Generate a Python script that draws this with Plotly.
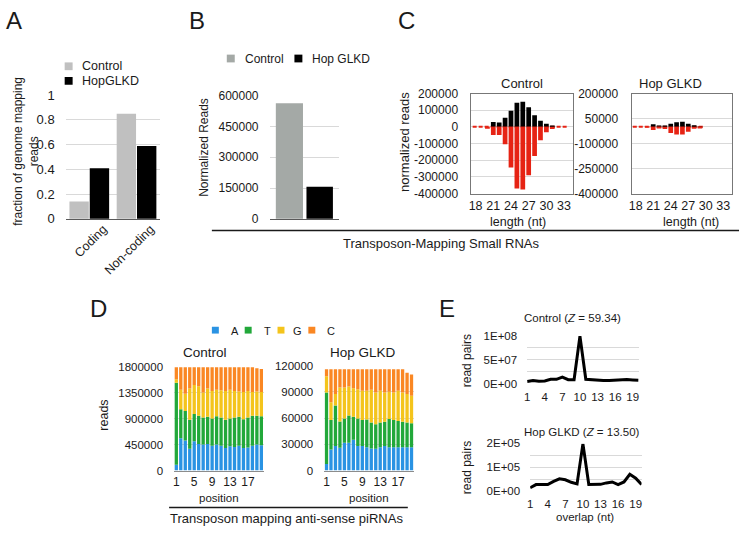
import numpy as np
import plotly.graph_objects as go

W, H = 745, 534
FONT = "Liberation Sans, Arial, Helvetica, sans-serif"
INK = "#1a1a1a"
GRID = "#d9d9d9"

# ── A: fraction of genome mapping reads ──────────────────────────────────────
a_categories = ["Coding", "Non-coding"]
a_control = [0.14, 0.85]
a_hopglkd = [0.41, 0.59]
a_yticks = [0, 0.2, 0.4, 0.6, 0.8, 1]

# ── B: transposon-mapping small RNAs ─────────────────────────────────────────
b_category = ["small RNAs"]
b_control = [562000]
b_hopglkd = [156000]
b_yticks = [0, 150000, 300000, 450000, 600000]

# ── C: length profile (sense up, antisense down) ─────────────────────────────
c_length = list(range(18, 34))
c_ctrl_sense = [0, 0, 0, 29000, 26000, 54000, 96000, 144000, 150000, 118000,
                70000, 36000, 18000, 5000, 0, 0]
c_ctrl_anti = [0, 0, -12000, -49000, -49000, -104000, -244000, -370000, -376000,
               -290000, -174000, -80000, -33000, -13000, 0, 0]
c_hop_sense = [0, 0, 0, 15000, 3000, 4000, 19000, 27000, 31000, 19000,
               9000, 2000, 0, 0, 0, 0]
c_hop_anti = [0, 0, -3000, -19000, -5000, -13000, -37000, -46000, -46000,
              -29000, -12000, -4000, 0, 0, 0, 0]
c_hop_last_len = 29
c_ctrl_yticks = [-400000, -300000, -200000, -100000, 0, 100000, 200000]
c_hop_yticks = [-400000, -250000, -100000, 50000, 200000]
c_xticks = [18, 21, 24, 27, 30, 33]

# ── D: nucleotide composition per position ───────────────────────────────────
d_position = list(range(1, 21))
d_ctrl_A = [100000, 560000, 520000, 380000, 510000, 460000, 450000, 460000, 430000, 450000,
            430000, 390000, 420000, 410000, 430000, 390000, 400000, 430000, 450000, 440000]
d_ctrl_T = [1420000, 500000, 510000, 500000, 470000, 490000, 470000, 470000, 470000, 490000,
            490000, 490000, 480000, 510000, 500000, 500000, 520000, 520000, 500000, 500000]
d_ctrl_G = [60000, 340000, 300000, 540000, 500000, 510000, 430000, 490000, 480000, 460000,
            470000, 500000, 500000, 460000, 440000, 470000, 460000, 410000, 420000, 420000]
d_ctrl_C = [210000, 390000, 460000, 370000, 310000, 330000, 440000, 370000, 410000, 390000,
            400000, 410000, 390000, 410000, 420000, 430000, 410000, 430000, 400000, 400000]
d_hop_A = [7500, 24000, 28000, 26000, 31700, 31700, 35400, 28000, 28000, 26800,
           25300, 25000, 26800, 28000, 26800, 26800, 26800, 26800, 26800, 26800]
d_hop_T = [81900, 33700, 46500, 30000, 27900, 31300, 26100, 31600, 29800, 31700,
           29800, 27900, 28300, 27900, 32200, 31000, 29800, 29100, 28300, 27200]
d_hop_G = [18600, 20300, 13100, 39000, 35400, 33000, 32500, 33400, 33500, 32800,
           37300, 36500, 36200, 33500, 31200, 31600, 34700, 33500, 32500, 31700]
d_hop_C = [8000, 38000, 28400, 21000, 21000, 20000, 22000, 23000, 24700, 24700,
           23600, 26600, 24700, 26600, 25800, 26600, 24700, 26600, 24400, 24300]
d_bases = ["A", "T", "G", "C"]
d_colors = ["#2a93e3", "#22a83a", "#f4c41c", "#fa8723"]
d_ctrl_yticks = [0, 450000, 900000, 1350000, 1800000]
d_hop_yticks = [0, 30000, 60000, 90000, 120000]
d_xticks = [1, 5, 9, 13, 17]

# ── E: ping-pong overlap ─────────────────────────────────────────────────────
e_overlap = list(range(1, 21))
e_ctrl_pairs = [5.3e6, 7.2e6, 5.9e6, 6.5e6, 9.9e6, 9.9e6, 1.45e7, 9.2e6, 9.2e6, 9.87e7,
                9.9e6, 8.6e6, 7.9e6, 7.2e6, 7.2e6, 7.9e6, 9.2e6, 9.2e6, 8.6e6, 7.9e6]
e_hop_pairs = [13500, 27000, 27000, 27000, 40500, 51000, 47000, 36500, 30000, 198000,
               27000, 28000, 28000, 34000, 38000, 27000, 38000, 70000, 54000, 27000]
e_ctrl_yticks = [0, 5e7, 1e8]
e_ctrl_ylabels = ["0E+00", "5E+07", "1E+08"]
e_hop_yticks = [0, 1e5, 2e5]
e_hop_ylabels = ["0E+00", "1E+05", "2E+05"]
e_xticks = [1, 4, 7, 10, 13, 16, 19]


def dom_x(x0, x1):
    return [x0 / W, x1 / W]


def dom_y(top, bottom):
    return [1 - bottom / H, 1 - top / H]


def tf(size):
    return dict(size=size, color=INK, family=FONT)


def ax(*parts, **kw):
    out = {}
    for p in parts:
        out.update(p)
    out.update(kw)
    return out


def label(text, x, y, size=12, angle=0, xanchor="center"):
    return dict(text=text, x=x / W, y=1 - y / H, xref="paper", yref="paper",
                showarrow=False, font=tf(size), textangle=angle,
                xanchor=xanchor, yanchor="middle")


def square(x0, y0, size, color):
    return dict(type="rect", xref="paper", yref="paper",
                x0=x0 / W, x1=(x0 + size) / W, y0=1 - (y0 + size) / H, y1=1 - y0 / H,
                fillcolor=color, line=dict(width=0))


def hline(x0, x1, y, width=1.5):
    return dict(type="line", xref="paper", yref="paper",
                x0=x0 / W, x1=x1 / W, y0=1 - y / H, y1=1 - y / H,
                line=dict(color=INK, width=width))


fig = go.Figure()

# A
fig.add_trace(go.Bar(x=a_categories, y=a_control, offset=-0.42, width=0.41,
                     marker=dict(color="#c0c0c0", line_width=0), xaxis="x", yaxis="y"))
fig.add_trace(go.Bar(x=a_categories, y=a_hopglkd, offset=0.01, width=0.41,
                     marker=dict(color="#000000", line_width=0), xaxis="x", yaxis="y"))

# B
fig.add_trace(go.Bar(x=b_category, y=b_control, offset=-0.41, width=0.39,
                     marker=dict(color="#a4a9a6", line_width=0), xaxis="x2", yaxis="y2"))
fig.add_trace(go.Bar(x=b_category, y=b_hopglkd, offset=0.03, width=0.38,
                     marker=dict(color="#000000", line_width=0), xaxis="x2", yaxis="y2"))

# C
for xa, ya, sense, anti in [("x3", "y3", c_ctrl_sense, c_ctrl_anti),
                            ("x4", "y4", c_hop_sense, c_hop_anti)]:
    fig.add_trace(go.Bar(x=c_length, y=sense, width=0.8,
                         marker=dict(color="#000000", line_width=0), xaxis=xa, yaxis=ya))
    fig.add_trace(go.Bar(x=c_length, y=anti, width=0.8,
                         marker=dict(color="#e62314", line_width=0), xaxis=xa, yaxis=ya))

# D  (stacked via explicit base)
for xa, ya, series in [("x5", "y5", [d_ctrl_A, d_ctrl_T, d_ctrl_G, d_ctrl_C]),
                       ("x6", "y6", [d_hop_A, d_hop_T, d_hop_G, d_hop_C])]:
    base = np.zeros(len(d_position))
    for vals, color in zip(series, d_colors):
        fig.add_trace(go.Bar(x=d_position, y=vals, base=base.copy(), width=0.74,
                             marker=dict(color=color, line_width=0), xaxis=xa, yaxis=ya))
        base += np.array(vals)

# E
fig.add_trace(go.Scatter(x=e_overlap, y=e_ctrl_pairs, mode="lines",
                         line=dict(color="#000000", width=3), xaxis="x7", yaxis="y7"))
fig.add_trace(go.Scatter(x=e_overlap, y=e_hop_pairs, mode="lines",
                         line=dict(color="#000000", width=3), xaxis="x8", yaxis="y8"))

STANDOFF = 10
common_y = dict(showline=False, zeroline=False, showgrid=True, gridcolor=GRID,
                gridwidth=1, ticks="", ticklabelstandoff=STANDOFF, tickmode="array")
common_x = dict(showgrid=False, zeroline=False, ticks="", tickmode="array")
box = dict(showline=True, mirror=True, linecolor="#777777", linewidth=1)

fig.update_layout(
    width=W, height=H, margin=dict(l=0, r=0, t=0, b=0),
    paper_bgcolor="white", plot_bgcolor="white",
    barmode="overlay", showlegend=False,
    font=dict(family=FONT, color=INK, size=12),
    # A
    xaxis=ax(common_x, domain=dom_x(63, 158), anchor="y", type="category",
             range=[-0.5, 1.5], showline=True, linecolor="#595959",
             tickangle=-45, tickfont=tf(12.5), ticklabelshift=14, ticklabelstandoff=-3),
    yaxis=ax(common_y, domain=dom_y(90.7, 218), anchor="x", range=[0, 1],
             tickvals=a_yticks, ticktext=[f"{v:g}" for v in a_yticks], tickfont=tf(13)),
    # B
    xaxis2=ax(common_x, domain=dom_x(268, 338), anchor="y2", type="category",
              range=[-0.5, 0.5], showline=True, linecolor="#595959",
              showticklabels=False),
    yaxis2=ax(common_y, domain=dom_y(91, 218), anchor="x2", range=[0, 600000],
              tickvals=b_yticks, ticktext=[str(v) for v in b_yticks], tickfont=tf(12)),
    # C control
    xaxis3=ax(common_x, box, domain=dom_x(471, 573), anchor="y3", range=[17.3, 34.5],
              tickvals=c_xticks, ticktext=[str(v) for v in c_xticks], tickfont=tf(12.5),
              ticklabelstandoff=0),
    yaxis3=ax(common_y, box, domain=dom_y(89, 192), anchor="x3", range=[-400000, 200000],
              tickvals=c_ctrl_yticks, ticktext=[str(v) for v in c_ctrl_yticks],
              tickfont=tf(12)),
    # C hop
    xaxis4=ax(common_x, box, domain=dom_x(632, 733), anchor="y4", range=[17.3, 34.5],
              tickvals=c_xticks, ticktext=[str(v) for v in c_xticks], tickfont=tf(12.5),
              ticklabelstandoff=0),
    yaxis4=ax(common_y, box, domain=dom_y(89, 192), anchor="x4", range=[-400000, 200000],
              tickvals=c_hop_yticks, ticktext=[str(v) for v in c_hop_yticks],
              tickfont=tf(12), zeroline=True, zerolinecolor=GRID, zerolinewidth=1),
    # D control
    xaxis5=ax(common_x, domain=dom_x(172, 262), anchor="y5", range=[0.5, 20.5],
              showline=True, linecolor="#8c8c8c",
              tickvals=d_xticks, ticktext=[str(v) for v in d_xticks], tickfont=tf(12)),
    yaxis5=ax(common_y, domain=dom_y(370, 477), anchor="x5", range=[0, 1800000],
              tickvals=d_ctrl_yticks, ticktext=[str(v) for v in d_ctrl_yticks],
              tickfont=tf(11.5)),
    # D hop
    xaxis6=ax(common_x, domain=dom_x(323, 413), anchor="y6", range=[0.5, 20.5],
              showline=True, linecolor="#8c8c8c",
              tickvals=d_xticks, ticktext=[str(v) for v in d_xticks], tickfont=tf(12)),
    yaxis6=ax(common_y, domain=dom_y(369, 477), anchor="x6", range=[0, 120000],
              tickvals=d_hop_yticks, ticktext=[str(v) for v in d_hop_yticks],
              tickfont=tf(11.5)),
    # E control
    xaxis7=ax(common_x, domain=dom_x(527, 639), anchor="y7", range=[1, 20],
              tickvals=e_xticks, ticktext=[str(v) for v in e_xticks], tickfont=tf(11.5),
              ticklabelstandoff=4),
    yaxis7=ax(common_y, domain=dom_y(338, 388), anchor="x7", range=[0, 1e8],
              tickvals=e_ctrl_yticks, ticktext=e_ctrl_ylabels, tickfont=tf(11.5),
              ticklabelstandoff=9,
              minor=dict(tickmode="linear", tick0=0, dtick=2.5e7, showgrid=True,
                         gridcolor=GRID, ticks="")),
    # E hop
    xaxis8=ax(common_x, domain=dom_x(530, 642), anchor="y8", range=[1, 20],
              tickvals=e_xticks, ticktext=[str(v) for v in e_xticks], tickfont=tf(11.5),
              ticklabelstandoff=4),
    yaxis8=ax(common_y, domain=dom_y(449, 498), anchor="x8", range=[0, 2e5],
              tickvals=e_hop_yticks, ticktext=e_hop_ylabels, tickfont=tf(11.5),
              ticklabelstandoff=9,
              minor=dict(tickmode="linear", tick0=0, dtick=5e4, showgrid=True,
                         gridcolor=GRID, ticks="")),
)

annotations = [
    # panel letters
    label("A", 11, 14, 24), label("B", 195, 14, 24), label("C", 406, 14, 24),
    label("D", 96, 310, 24), label("E", 446, 310, 24),
    # A
    label("fraction of genome mapping<br>reads", 23, 148, 12, angle=-90),
    label("Control", 77, 61, 12.5, xanchor="left"),
    label("HopGLKD", 77, 76.5, 12.5, xanchor="left"),
    # B
    label("Normalized Reads", 202, 144, 12, angle=-90),
    label("Control", 241, 53, 12, xanchor="left"),
    label("Hop GLKD", 309, 53, 12, xanchor="left"),
    # C
    label("normalized reads", 403, 139, 13, angle=-90),
    label("Control", 522, 79, 13), label("Hop GLKD", 671, 79, 13),
    label("length (nt)", 518, 221, 12.5), label("length (nt)", 692, 221, 12.5),
    label("Transposon-Mapping Small RNAs", 441, 243, 13),
    # D
    label("reads", 102, 420, 12.5, angle=-90),
    label("Control", 203, 355, 13.5), label("Hop GLKD", 362, 355, 13.5),
    label("position", 217, 505, 11.5), label("position", 368, 505, 11.5),
    label("Transposon mapping anti-sense piRNAs", 285, 526, 13),
    # E
    label("Control (<i>Z</i> = 59.34)", 573, 320, 11.5),
    label("Hop GLKD (<i>Z</i> = 13.50)", 582, 437, 11.5),
    label("read pairs", 466, 364, 12, angle=-90),
    label("read pairs", 466, 474, 12, angle=-90),
    label("overlap (nt)", 585, 525, 11.5),
]
legend_d_x = [227, 260, 290, 324]
for base_name, tx in zip(d_bases, legend_d_x):
    annotations.append(label(base_name, tx, 333, 11, xanchor="left"))

shapes = [
    square(62, 57, 8, "#c0c0c0"), square(62, 72, 8, "#000000"),
    square(225, 49, 8, "#a4a9a6"), square(293, 49, 8, "#000000"),
    hline(210, 740, 230), hline(167, 407, 515),
    dict(type="line", xref="x3", yref="y3", x0=c_length[0] - 0.5, x1=c_length[-1] + 0.5,
         y0=0, y1=0, line=dict(color="#e62314", width=2, dash="4px,2px"), layer="between"),
    dict(type="line", xref="x4", yref="y4", x0=c_length[0] - 0.5, x1=c_hop_last_len + 0.5,
         y0=0, y1=0, line=dict(color="#e62314", width=2, dash="4px,2px"), layer="between"),
]
for color, sx in zip(d_colors, [210, 243, 276, 307]):
    shapes.append(square(sx, 329, 7, color))

fig.update_layout(annotations=annotations, shapes=shapes)
fig.write_html("out.html", config={"displayModeBar": False},
               post_script="document.body.style.margin='0';"
                           "document.body.style.overflow='hidden';")
